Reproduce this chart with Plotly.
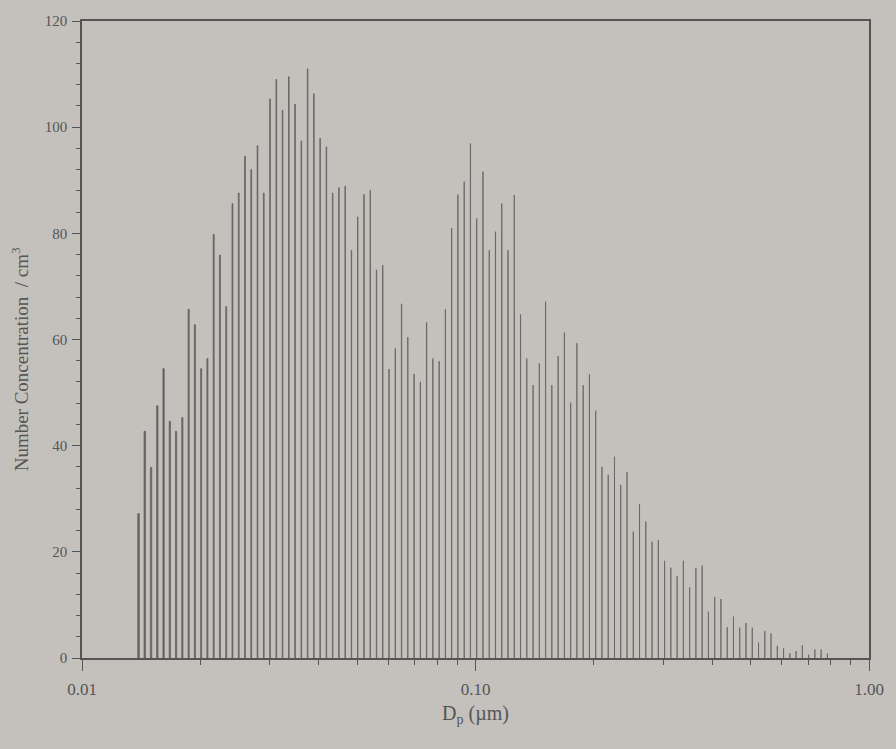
import numpy as np
import plotly.graph_objects as go

# Number concentration per size channel, smallest to largest diameter
conc = [
    27.2, 42.7, 35.9, 47.5, 54.5, 44.6, 42.7, 45.3, 65.7, 62.8,
    54.5, 56.4, 79.8, 75.9, 66.2, 85.6, 87.6, 94.5, 92.0, 96.5,
    87.6, 105.3, 109.0, 103.2, 109.5, 104.3, 97.4, 111.0, 106.3, 97.9,
    96.3, 87.6, 88.6, 88.9, 76.8, 83.1, 87.3, 88.1, 73.1, 74.0,
    54.4, 58.3, 66.7, 60.4, 53.5, 52.0, 63.2, 56.4, 55.9, 65.7,
    81.0, 87.3, 89.7, 96.9, 82.8, 91.6, 76.8, 80.3, 85.6, 76.8,
    87.2, 64.7, 56.4, 51.4, 55.5, 67.1, 51.4, 56.9, 61.3, 48.1,
    59.3, 51.4, 53.4, 46.6, 36.0, 34.5, 37.9, 32.6, 35.0, 23.8,
    29.0, 25.7, 21.9, 22.2, 18.3, 17.0, 15.4, 18.3, 13.3, 16.9,
    17.4, 8.7, 11.5, 11.1, 5.8, 7.8, 5.7, 6.6, 5.7, 2.9,
    5.1, 4.6, 2.3, 1.8, 0.9, 1.3, 2.4, 0.6, 1.6, 1.6,
    0.9,
]

# Size channels: geometric (log-spaced) bins of the sizer, first and last channel
dp_first = 0.01392
dp_last = 0.784
dp = np.geomspace(dp_first, dp_last, len(conc))

x_tickvals = [0.01, 0.1, 1.0]
x_ticktext = ["0.01", "0.10", "1.00"]
x_minor = [0.02, 0.03, 0.04, 0.05, 0.06, 0.07, 0.08, 0.09,
           0.2, 0.3, 0.4, 0.5, 0.6, 0.7, 0.8, 0.9]
y_tickvals = [0, 20, 40, 60, 80, 100, 120]
y_title = "Number Concentration  / cm<sup>3</sup>"
x_title = "D<sub>p</sub> (µm)"

ink = "#555555"
bar_color = "#646464"
bg = "#c4c1bc"
font_family = "Liberation Serif, Times New Roman, serif"

fig = go.Figure()
fig.add_trace(go.Bar(
    x=dp, y=conc,
    marker=dict(color=bar_color, line=dict(width=0.8, color=bar_color)),
    showlegend=False,
))

fig.update_layout(
    width=896, height=749,
    margin=dict(l=82, r=23, t=21, b=91),
    paper_bgcolor=bg, plot_bgcolor=bg,
    bargap=0.76,
    font=dict(family=font_family, color=ink, size=14),
)

fig.update_xaxes(
    type="log", range=[-2, 0],
    tickvals=x_tickvals, ticktext=x_ticktext,
    ticks="outside", ticklen=11, tickwidth=1.2, tickcolor=ink,
    minor=dict(tickvals=x_minor, ticks="outside", ticklen=5, tickwidth=1, tickcolor=ink, showgrid=False),
    showline=True, linecolor=ink, linewidth=1.5, mirror=True,
    showgrid=False, zeroline=False,
    tickfont=dict(size=17, family=font_family, color=ink),
    ticklabelstandoff=4,
    title=dict(text=x_title, font=dict(size=20, family=font_family, color=ink), standoff=8),
)

fig.update_yaxes(
    range=[0, 120],
    tickvals=y_tickvals,
    ticks="outside", ticklen=8, tickwidth=1.2, tickcolor=ink,
    minor=dict(dtick=4, ticks="outside", ticklen=4, tickwidth=1, tickcolor=ink, showgrid=False),
    showline=True, linecolor=ink, linewidth=1.5, mirror=True,
    showgrid=False, zeroline=False,
    tickfont=dict(size=15, family=font_family, color=ink),
    ticklabelstandoff=2,
)

fig.add_annotation(
    text=y_title, textangle=-90,
    xref="paper", yref="paper",
    x=(20 - 82) / 791, y=(658 - 359) / 637,
    xanchor="center", yanchor="middle",
    showarrow=False,
    font=dict(size=19, family=font_family, color=ink),
)

fig.write_html("out.html")
